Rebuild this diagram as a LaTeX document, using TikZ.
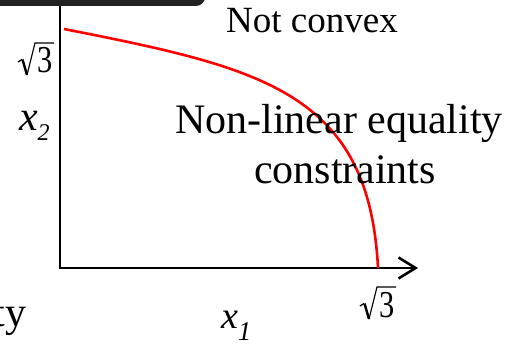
\documentclass[tikz,border=0pt]{standalone}
\usepackage{fontspec}
\setmainfont{Liberation Serif}
\usetikzlibrary{arrows.meta}
\definecolor{barcol}{HTML}{222222}
\tikzset{
  axisline/.style={line width=2.6pt, black},
  curveline/.style={line width=2.6pt, red},
  lbl/.style={inner sep=0pt, outer sep=0pt},
  pics/sqrtthree/.style={code={
    \draw[line width=1.3pt, line join=miter] (0,20) -- (4,17.5);
    \draw[line width=2.4pt, line join=miter] (4.5,17.5) -- (9,33);
    \draw[line width=1.2pt] (9,33) -- (17,1) -- (36,1);
    \node[lbl, anchor=base west] (-t) at (19,31) {\scalebox{0.8}[1]{\fontsize{38}{38}\selectfont 3}};
  }}
}
\begin{document}
\begin{tikzpicture}[x=1pt, y=-1pt]
\useasboundingbox (0,0) rectangle (519,345);
% axes
\coordinate (O) at (60,268);
\coordinate (ytop) at (60,-2);
\coordinate (xend) at (418,268);
\draw[axisline] (ytop) -- (O);
\draw[axisline, -{Straight Barb[length=17pt, width=21pt, line width=2.6pt]}] ([xshift=-1.3pt]O) -- (xend);
% dark bar at top
\fill[barcol, rounded corners=9pt] (-20,-20) rectangle (205,6);
% curve
\coordinate (cs) at (64,29);
\coordinate (ce) at (378,268);
\draw[curveline] (cs) .. controls (262,68) and (369,92) .. (ce);
% texts
\node[lbl, anchor=base, font=\fontsize{37}{40}\selectfont] (notconvex) at (312,33) {Not convex};
\node[lbl, anchor=base, font=\fontsize{42}{46}\selectfont] (nonlin) at (339,133) {Non-linear equality};
\node[lbl, anchor=base, font=\fontsize{42}{46}\selectfont] (constr) at (345,183) {constraints};
\node[lbl, anchor=base west, font=\fontsize{42}{46}\selectfont\itshape] (xtwo) at (19,130) {x\raisebox{-10pt}{\fontsize{24}{24}\selectfont 2}};
\node[lbl, anchor=base west, font=\fontsize{38}{42}\selectfont\itshape] (xone) at (221,328) {x\raisebox{-12pt}{\fontsize{27}{27}\selectfont 1}};
\node[lbl, anchor=base east, font=\fontsize{42}{46}\selectfont] (ty) at (26,326) {ty};
% square roots of three
\pic (sqa) at (18,42) {sqrtthree};
\pic (sqb) at (360,286) {sqrtthree};
\end{tikzpicture}
\end{document}
